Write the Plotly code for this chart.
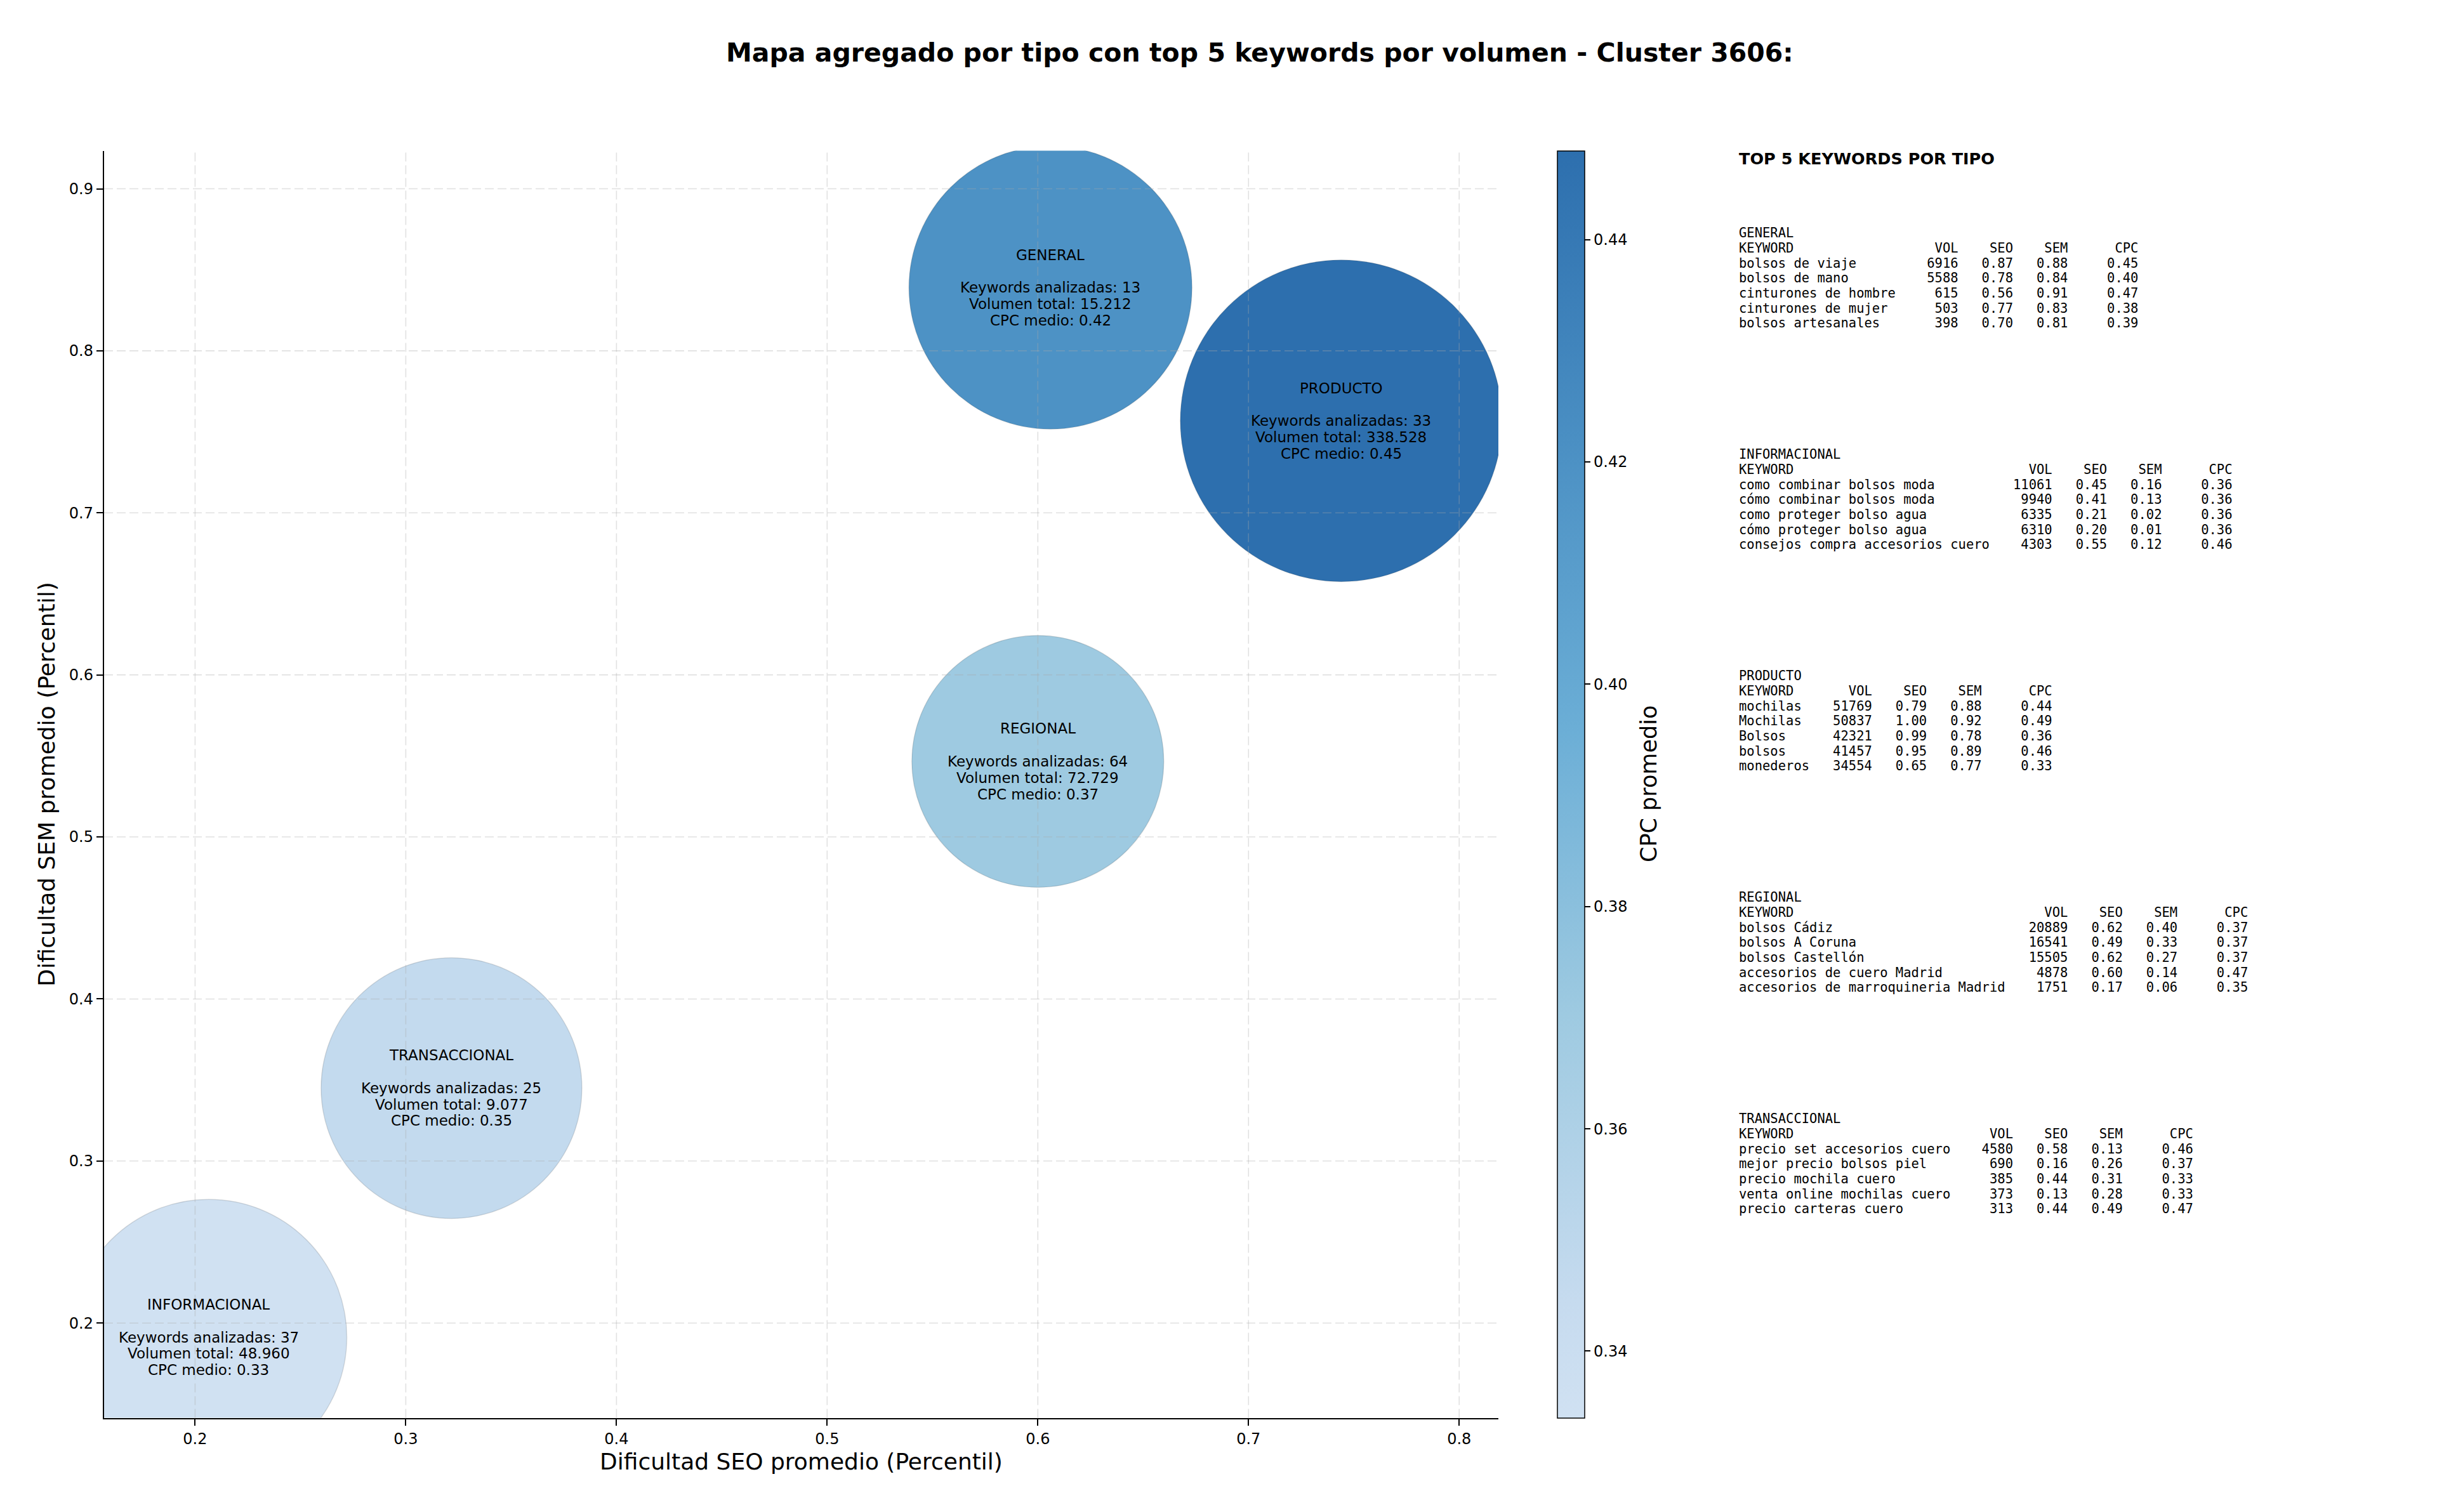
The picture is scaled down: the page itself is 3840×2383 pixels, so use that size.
import plotly.graph_objects as go

# ---------------- DATA ----------------
tipos = ["GENERAL", "INFORMACIONAL", "PRODUCTO", "REGIONAL", "TRANSACCIONAL"]
seo_promedio = [0.606, 0.2065, 0.744, 0.600, 0.3217]
sem_promedio = [0.839, 0.1912, 0.7568, 0.5466, 0.345]
cpc_promedio = [0.42, 0.334, 0.448, 0.37, 0.346]
keywords_analizadas = [13, 37, 33, 64, 25]
volumen_total = [15212, 48960, 338528, 72729, 9077]

x_ticks = [0.2, 0.3, 0.4, 0.5, 0.6, 0.7, 0.8]
y_ticks = [0.2, 0.3, 0.4, 0.5, 0.6, 0.7, 0.8, 0.9]
cbar_ticks = [0.34, 0.36, 0.38, 0.40, 0.42, 0.44]

# top 5 keywords per type (columnar)
top_tipo = (["GENERAL"] * 5 + ["INFORMACIONAL"] * 5 + ["PRODUCTO"] * 5
            + ["REGIONAL"] * 5 + ["TRANSACCIONAL"] * 5)
top_keyword = [
    "bolsos de viaje", "bolsos de mano", "cinturones de hombre", "cinturones de mujer", "bolsos artesanales",
    "como combinar bolsos moda", "cómo combinar bolsos moda", "como proteger bolso agua",
    "cómo proteger bolso agua", "consejos compra accesorios cuero",
    "mochilas", "Mochilas", "Bolsos", "bolsos", "monederos",
    "bolsos Cádiz", "bolsos A Coruna", "bolsos Castellón", "accesorios de cuero Madrid",
    "accesorios de marroquineria Madrid",
    "precio set accesorios cuero", "mejor precio bolsos piel", "precio mochila cuero",
    "venta online mochilas cuero", "precio carteras cuero",
]
top_vol = [6916, 5588, 615, 503, 398,
           11061, 9940, 6335, 6310, 4303,
           51769, 50837, 42321, 41457, 34554,
           20889, 16541, 15505, 4878, 1751,
           4580, 690, 385, 373, 313]
top_seo = [0.87, 0.78, 0.56, 0.77, 0.70,
           0.45, 0.41, 0.21, 0.20, 0.55,
           0.79, 1.00, 0.99, 0.95, 0.65,
           0.62, 0.49, 0.62, 0.60, 0.17,
           0.58, 0.16, 0.44, 0.13, 0.44]
top_sem = [0.88, 0.84, 0.91, 0.83, 0.81,
           0.16, 0.13, 0.02, 0.01, 0.12,
           0.88, 0.92, 0.78, 0.89, 0.77,
           0.40, 0.33, 0.27, 0.14, 0.06,
           0.13, 0.26, 0.31, 0.28, 0.49]
top_cpc = [0.45, 0.40, 0.47, 0.38, 0.39,
           0.36, 0.36, 0.36, 0.36, 0.46,
           0.44, 0.49, 0.36, 0.46, 0.33,
           0.37, 0.37, 0.37, 0.47, 0.35,
           0.46, 0.37, 0.33, 0.33, 0.47]

# ---------------- STYLE ----------------
W, H = 3840, 2383
PLOT_L, PLOT_R, PLOT_T, PLOT_B = 164, 2361, 237.5, 2234.6
X_RANGE = [0.1568, 0.8186]
Y_RANGE = [0.1415, 0.9235]
bubble_diam = [446, 435, 507, 397, 411]

blues_trunc = [
    [0.0, "#d0e1f2"], [0.0909, "#c6dbef"], [0.318, "#9ecae1"],
    [0.545, "#6baed6"], [0.773, "#4a8fc3"], [1.0, "#2d6fae"],
]
FONT = "DejaVu Sans"
MONO = "DejaVu Sans Mono"


def fx(p):
    return p / W


def fy(p):
    return 1 - p / H


fig = go.Figure()
fig.add_trace(go.Scatter(
    x=seo_promedio, y=sem_promedio, mode="markers", cliponaxis=True,
    hoverinfo="skip",
    marker=dict(
        size=bubble_diam, sizemode="diameter", color=cpc_promedio,
        colorscale=blues_trunc, cmin=min(cpc_promedio), cmax=max(cpc_promedio),
        opacity=1.0, line=dict(color="rgba(0,0,0,0.12)", width=1.5),
        showscale=True,
        colorbar=dict(
            x=fx(2454), xanchor="left", xpad=0, ypad=0,
            y=fy(PLOT_B), yanchor="bottom", len=(PLOT_B - PLOT_T) / H, lenmode="fraction",
            thickness=43, outlinewidth=1.5, outlinecolor="black",
            tickmode="array", tickvals=cbar_ticks, ticktext=[f"{v:.2f}" for v in cbar_ticks],
            ticks="outside", ticklen=9, tickwidth=2, tickcolor="black",
            tickfont=dict(family=FONT, size=24, color="black"),
        ),
    ),
))

shapes = []
grid_line = dict(color="rgba(170,170,170,0.35)", width=1.6, dash="14px,6px")
for xv in x_ticks:
    shapes.append(dict(type="line", xref="x", yref="y domain", x0=xv, x1=xv, y0=0, y1=1,
                       line=grid_line, layer="above"))
for yv in y_ticks:
    shapes.append(dict(type="line", xref="x domain", yref="y", x0=0, x1=1, y0=yv, y1=yv,
                       line=grid_line, layer="above"))

annotations = []
annotations.append(dict(
    text="<b>Mapa agregado por tipo con top 5 keywords por volumen - Cluster 3606:</b>",
    x=fx(1985), y=fy(83), xref="paper", yref="paper", showarrow=False,
    xanchor="center", yanchor="middle", font=dict(family=FONT, size=41, color="black")))

# colorbar label
annotations.append(dict(
    text="CPC promedio", x=fx(2598), y=fy((PLOT_T + PLOT_B) / 2), xref="paper", yref="paper",
    showarrow=False, textangle=-90, xanchor="center", yanchor="middle",
    font=dict(family=FONT, size=35, color="black")))

# bubble labels
LINE_H = 25.8
for i, t in enumerate(tipos):
    vol_fmt = f"{volumen_total[i]:,}".replace(",", ".")
    lines = [t, "", f"Keywords analizadas: {keywords_analizadas[i]}",
             f"Volumen total: {vol_fmt}", f"CPC medio: {cpc_promedio[i]:.2f}"]
    for j, line in enumerate(lines):
        if not line:
            continue
        annotations.append(dict(
            text=line, x=seo_promedio[i], y=sem_promedio[i], xref="x", yref="y",
            yshift=(2 - j) * LINE_H, showarrow=False, xanchor="center", yanchor="middle",
            font=dict(family=FONT, size=23, color="black")))

# right panel
PANEL_X = 2738
annotations.append(dict(
    text="<b>TOP 5 KEYWORDS POR TIPO</b>", x=fx(PANEL_X), y=fy(250), xref="paper", yref="paper",
    showarrow=False, xanchor="left", yanchor="middle", font=dict(family=FONT, size=25.5, color="black")))

BLOCK_Y0, BLOCK_STEP, MONO_LH = 367.4, 349.0, 23.65
for b, t in enumerate(tipos):
    idx = [k for k, tt in enumerate(top_tipo) if tt == t]
    wkw = max(len(top_keyword[k]) for k in idx)
    rows = [t, f"{'KEYWORD':<{wkw}} {'VOL':>7} {'SEO':>6} {'SEM':>6} {'CPC':>8}"]
    for k in idx:
        rows.append(f"{top_keyword[k]:<{wkw}} {top_vol[k]:>7} {top_seo[k]:>6.2f} "
                    f"{top_sem[k]:>6.2f} {top_cpc[k]:>8.2f}")
    for r, row in enumerate(rows):
        annotations.append(dict(
            text=row.replace(" ", "\u00a0"), x=fx(PANEL_X), y=fy(BLOCK_Y0 + b * BLOCK_STEP + r * MONO_LH),
            xref="paper", yref="paper", showarrow=False, xanchor="left", yanchor="middle",
            font=dict(family=MONO, size=20.5, color="black")))

axis_common = dict(
    tickmode="array", showgrid=False, zeroline=False, showline=True, linecolor="black",
    linewidth=2.4, ticks="outside", ticklen=10, tickwidth=2.4, tickcolor="black",
    tickfont=dict(family=FONT, size=24, color="black"), mirror=False, fixedrange=True,
)

fig.update_layout(
    width=W, height=H, margin=dict(l=0, r=0, t=0, b=0),
    paper_bgcolor="white", plot_bgcolor="white", showlegend=False, hovermode=False,
    xaxis=dict(domain=[fx(PLOT_L), fx(PLOT_R)], range=X_RANGE, tickvals=x_ticks,
               ticktext=[f"{v:.1f}" for v in x_ticks],
               title=dict(text="Dificultad SEO promedio (Percentil)", standoff=10,
                          font=dict(family=FONT, size=36, color="black")),
               **axis_common),
    yaxis=dict(domain=[fy(PLOT_B), fy(PLOT_T)], range=Y_RANGE, tickvals=y_ticks,
               ticktext=[f"{v:.1f}" for v in y_ticks],
               title=dict(text="Dificultad SEM promedio (Percentil)", standoff=11,
                          font=dict(family=FONT, size=36, color="black")),
               **axis_common),
    shapes=shapes, annotations=annotations,
)

fig.write_html("out.html")
